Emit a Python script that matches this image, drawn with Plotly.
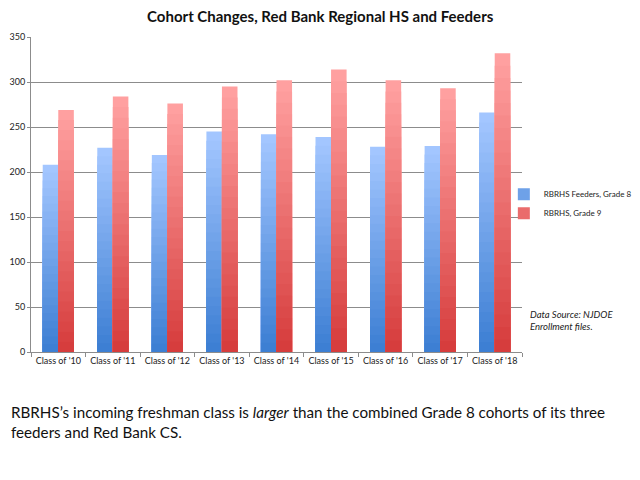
import plotly.graph_objects as go

# data
classes = ["Class of '10", "Class of '11", "Class of '12", "Class of '13", "Class of '14",
           "Class of '15", "Class of '16", "Class of '17", "Class of '18"]
feeders_grade8 = [208, 227, 219, 245, 242, 239, 228, 229, 266]
rbrhs_grade9 = [269, 284, 276, 295, 302, 314, 302, 293, 332]

series_names = ['RBRHS Feeders, Grade 8', 'RBRHS, Grade 9']
# (top colour, bottom colour) for the vertical gradient
series_colors = [((163, 198, 255), (61, 127, 211)),
                 ((255, 160, 160), (214, 61, 61))]

FONT = 'Lato'
STEPS = 24  # layers used to fake the gradient fill


def mix(c1, c2, t):
    return 'rgb(%d,%d,%d)' % tuple(round(a + (b - a) * t) for a, b in zip(c1, c2))


fig = go.Figure()

for idx, (name, values) in enumerate(zip(series_names, [feeders_grade8, rbrhs_grade9])):
    top, bottom = series_colors[idx]
    for k in range(STEPS):
        frac = (STEPS - k) / STEPS
        fig.add_trace(go.Bar(
            x=classes,
            y=[v * frac for v in values],
            name=name,
            offsetgroup=str(idx),
            legendgroup=name,
            showlegend=(k == STEPS // 2),
            marker=dict(color=mix(top, bottom, k / (STEPS - 1)), line=dict(width=0)),
            customdata=values,
            hovertemplate='<b>' + name + '</b><br>%{x}: %{customdata}<extra></extra>',
            hoverinfo='skip' if k else None,
        ))

# the page body adds an 8px margin, so the figure is 8px smaller each way
fig.update_layout(
    width=632,
    height=472,
    barmode='group',
    bargap=0.43,
    bargroupgap=0,
    paper_bgcolor='white',
    plot_bgcolor='white',
    font=dict(family=FONT, size=9, color='#222'),
    margin=dict(l=23, r=118, t=29, b=128, autoexpand=False),
    title=dict(text='<b>Cohort Changes, Red Bank Regional HS and Feeders</b>',
               x=0.494, xref='container', xanchor='center', y=0.981, yanchor='middle',
               font=dict(family=FONT, size=15, color='#111')),
    legend=dict(x=0.963, y=0.471, xanchor='left', yanchor='middle',
                font=dict(family=FONT, size=8, color='#222'),
                bgcolor='rgba(0,0,0,0)', itemclick=False, tracegroupgap=0),
    showlegend=True,
    xaxis=dict(showline=True, linecolor='#8c8c8c', linewidth=1, automargin=False,
               ticks='outside', tickson='boundaries', ticklen=4, tickcolor='#8c8c8c',
               tickangle=0, tickfont=dict(family=FONT, size=9, color='#222'), showgrid=False),
    yaxis=dict(range=[0, 350], dtick=50, showline=True, linecolor='#8c8c8c', linewidth=1,
               automargin=False, showgrid=True, gridcolor='#8c8c8c', gridwidth=1, zeroline=False,
               ticks='outside', ticklen=3, tickcolor='#8c8c8c',
               tickfont=dict(family=FONT, size=9, color='#222')),
    annotations=[
        dict(text='<i>Data Source: NJDOE<br>Enrollment files.</i>',
             xref='paper', yref='paper', x=1.012, y=0.10, xanchor='left', yanchor='middle',
             align='left', showarrow=False, font=dict(family=FONT, size=9.5, color='#222')),
        dict(text='RBRHS’s incoming freshman class is <i>larger</i> than the combined '
                  'Grade 8 cohorts of its three<br>feeders and Red Bank CS.',
             xref='paper', yref='paper', x=-0.045, y=-0.156, xanchor='left',
             yanchor='top', align='left', showarrow=False,
             font=dict(family=FONT, size=15.2, color='#111')),
    ],
)

fig.write_html('out.html')
